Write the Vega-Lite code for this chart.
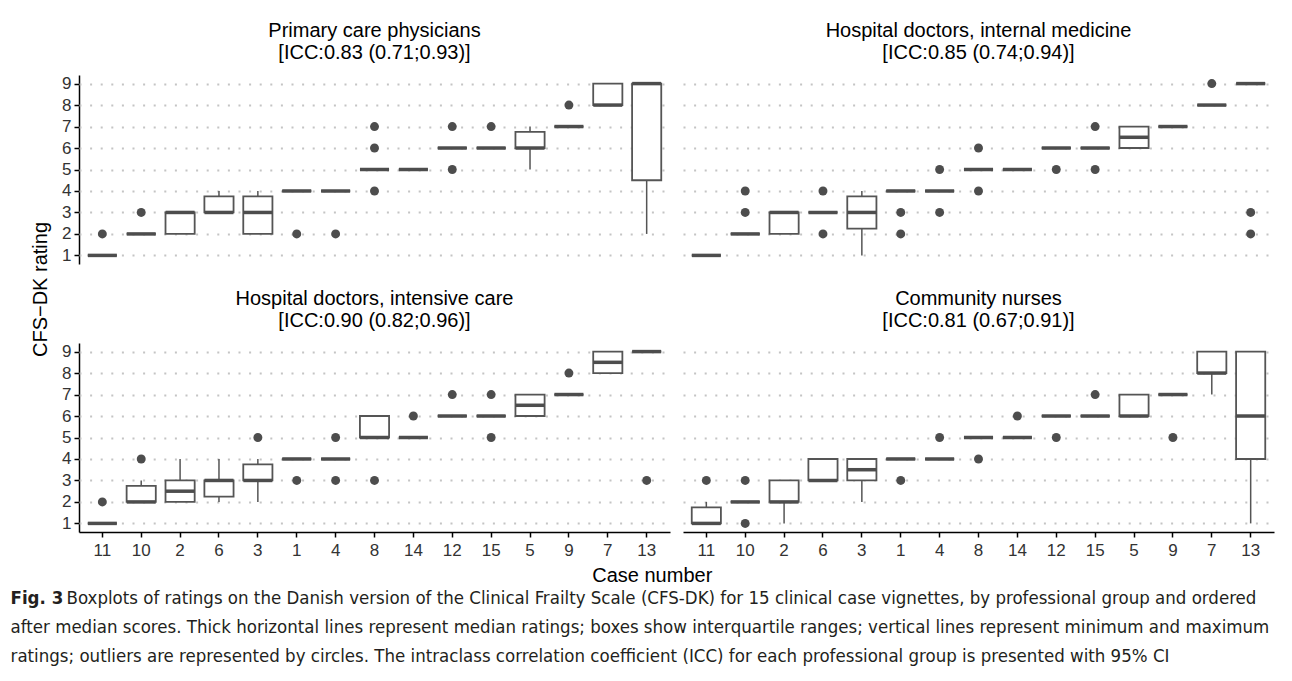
{
  "$schema": "https://vega.github.io/schema/vega-lite/v6.json",
  "background": "white",
  "padding": {"left": 10, "top": 21, "right": 5, "bottom": 5},
  "title": {
    "text": [
      "after median scores. Thick horizontal lines represent median ratings; boxes show interquartile ranges; vertical lines represent minimum and maximum",
      "ratings; outliers are represented by circles. The intraclass correlation coefficient (ICC) for each professional group is presented with 95% CI"
    ],
    "orient": "bottom",
    "anchor": "start",
    "frame": "bounds",
    "font": "DejaVu Sans Condensed",
    "fontSize": 18.5,
    "fontWeight": "normal",
    "color": "#231f20",
    "lineHeight": 29.5,
    "offset": 10
  },
  "vconcat": [
    {
      "title": {
        "text": "Boxplots of ratings on the Danish version of the Clinical Frailty Scale (CFS-DK) for 15 clinical case vignettes, by professional group and ordered",
        "orient": "bottom",
        "anchor": "start",
        "frame": "bounds",
        "dx": 56,
        "font": "DejaVu Sans Condensed",
        "fontSize": 18.5,
        "fontWeight": "normal",
        "color": "#231f20",
        "offset": -19
      },
      "vconcat": [
        {
          "title": {
            "text": "Fig. 3",
            "orient": "bottom",
            "anchor": "start",
            "frame": "bounds",
            "dx": -20,
            "font": "DejaVu Sans Condensed",
            "fontSize": 18.5,
            "fontWeight": "bold",
            "color": "#231f20",
            "offset": 3
          },
          "vconcat": [
            {
              "title": {"text": "Case number", "orient": "bottom", "anchor": "middle", "font": "Liberation Sans", "fontSize": 20, "fontWeight": "normal", "color": "black", "offset": 8},
              "vconcat": [
                {
                  "title": {"text": "CFS−DK rating", "orient": "left", "anchor": "middle", "font": "Liberation Sans", "fontSize": 20, "fontWeight": "normal", "color": "black", "offset": 11},
                  "data": {"values": [
                    {"g":"P","c":"11","k":"box","q1":1,"med":1,"q3":1,"lo":1,"hi":1},
                    {"g":"P","c":"10","k":"box","q1":2,"med":2,"q3":2,"lo":2,"hi":2},
                    {"g":"P","c":"2","k":"box","q1":2,"med":3,"q3":3,"lo":2,"hi":3},
                    {"g":"P","c":"6","k":"box","q1":3,"med":3,"q3":3.75,"lo":3,"hi":4},
                    {"g":"P","c":"3","k":"box","q1":2,"med":3,"q3":3.75,"lo":2,"hi":4},
                    {"g":"P","c":"1","k":"box","q1":4,"med":4,"q3":4,"lo":4,"hi":4},
                    {"g":"P","c":"4","k":"box","q1":4,"med":4,"q3":4,"lo":4,"hi":4},
                    {"g":"P","c":"8","k":"box","q1":5,"med":5,"q3":5,"lo":5,"hi":5},
                    {"g":"P","c":"14","k":"box","q1":5,"med":5,"q3":5,"lo":5,"hi":5},
                    {"g":"P","c":"12","k":"box","q1":6,"med":6,"q3":6,"lo":6,"hi":6},
                    {"g":"P","c":"15","k":"box","q1":6,"med":6,"q3":6,"lo":6,"hi":6},
                    {"g":"P","c":"5","k":"box","q1":6,"med":6,"q3":6.75,"lo":5,"hi":7},
                    {"g":"P","c":"9","k":"box","q1":7,"med":7,"q3":7,"lo":7,"hi":7},
                    {"g":"P","c":"7","k":"box","q1":8,"med":8,"q3":9,"lo":8,"hi":9},
                    {"g":"P","c":"13","k":"box","q1":4.5,"med":9,"q3":9,"lo":2,"hi":9},
                    {"g":"P","c":"11","k":"out","v":2},
                    {"g":"P","c":"10","k":"out","v":3},
                    {"g":"P","c":"1","k":"out","v":2},
                    {"g":"P","c":"4","k":"out","v":2},
                    {"g":"P","c":"8","k":"out","v":4},
                    {"g":"P","c":"8","k":"out","v":6},
                    {"g":"P","c":"8","k":"out","v":7},
                    {"g":"P","c":"12","k":"out","v":5},
                    {"g":"P","c":"12","k":"out","v":7},
                    {"g":"P","c":"15","k":"out","v":7},
                    {"g":"P","c":"9","k":"out","v":8},

                    {"g":"I","c":"11","k":"box","q1":1,"med":1,"q3":1,"lo":1,"hi":1},
                    {"g":"I","c":"10","k":"box","q1":2,"med":2,"q3":2,"lo":2,"hi":2},
                    {"g":"I","c":"2","k":"box","q1":2,"med":3,"q3":3,"lo":2,"hi":3},
                    {"g":"I","c":"6","k":"box","q1":3,"med":3,"q3":3,"lo":3,"hi":3},
                    {"g":"I","c":"3","k":"box","q1":2.25,"med":3,"q3":3.75,"lo":1,"hi":4},
                    {"g":"I","c":"1","k":"box","q1":4,"med":4,"q3":4,"lo":4,"hi":4},
                    {"g":"I","c":"4","k":"box","q1":4,"med":4,"q3":4,"lo":4,"hi":4},
                    {"g":"I","c":"8","k":"box","q1":5,"med":5,"q3":5,"lo":5,"hi":5},
                    {"g":"I","c":"14","k":"box","q1":5,"med":5,"q3":5,"lo":5,"hi":5},
                    {"g":"I","c":"12","k":"box","q1":6,"med":6,"q3":6,"lo":6,"hi":6},
                    {"g":"I","c":"15","k":"box","q1":6,"med":6,"q3":6,"lo":6,"hi":6},
                    {"g":"I","c":"5","k":"box","q1":6,"med":6.5,"q3":7,"lo":6,"hi":7},
                    {"g":"I","c":"9","k":"box","q1":7,"med":7,"q3":7,"lo":7,"hi":7},
                    {"g":"I","c":"7","k":"box","q1":8,"med":8,"q3":8,"lo":8,"hi":8},
                    {"g":"I","c":"13","k":"box","q1":9,"med":9,"q3":9,"lo":9,"hi":9},
                    {"g":"I","c":"10","k":"out","v":3},
                    {"g":"I","c":"10","k":"out","v":4},
                    {"g":"I","c":"6","k":"out","v":2},
                    {"g":"I","c":"6","k":"out","v":4},
                    {"g":"I","c":"1","k":"out","v":3},
                    {"g":"I","c":"1","k":"out","v":2},
                    {"g":"I","c":"4","k":"out","v":5},
                    {"g":"I","c":"4","k":"out","v":3},
                    {"g":"I","c":"8","k":"out","v":6},
                    {"g":"I","c":"8","k":"out","v":4},
                    {"g":"I","c":"12","k":"out","v":5},
                    {"g":"I","c":"15","k":"out","v":7},
                    {"g":"I","c":"15","k":"out","v":5},
                    {"g":"I","c":"7","k":"out","v":9},
                    {"g":"I","c":"13","k":"out","v":3},
                    {"g":"I","c":"13","k":"out","v":2},

                    {"g":"C","c":"11","k":"box","q1":1,"med":1,"q3":1,"lo":1,"hi":1},
                    {"g":"C","c":"10","k":"box","q1":2,"med":2,"q3":2.75,"lo":2,"hi":3},
                    {"g":"C","c":"2","k":"box","q1":2,"med":2.5,"q3":3,"lo":2,"hi":4},
                    {"g":"C","c":"6","k":"box","q1":2.25,"med":3,"q3":3,"lo":2,"hi":4},
                    {"g":"C","c":"3","k":"box","q1":3,"med":3,"q3":3.75,"lo":2,"hi":4},
                    {"g":"C","c":"1","k":"box","q1":4,"med":4,"q3":4,"lo":4,"hi":4},
                    {"g":"C","c":"4","k":"box","q1":4,"med":4,"q3":4,"lo":4,"hi":4},
                    {"g":"C","c":"8","k":"box","q1":5,"med":5,"q3":6,"lo":5,"hi":6},
                    {"g":"C","c":"14","k":"box","q1":5,"med":5,"q3":5,"lo":5,"hi":5},
                    {"g":"C","c":"12","k":"box","q1":6,"med":6,"q3":6,"lo":6,"hi":6},
                    {"g":"C","c":"15","k":"box","q1":6,"med":6,"q3":6,"lo":6,"hi":6},
                    {"g":"C","c":"5","k":"box","q1":6,"med":6.5,"q3":7,"lo":6,"hi":7},
                    {"g":"C","c":"9","k":"box","q1":7,"med":7,"q3":7,"lo":7,"hi":7},
                    {"g":"C","c":"7","k":"box","q1":8,"med":8.5,"q3":9,"lo":8,"hi":9},
                    {"g":"C","c":"13","k":"box","q1":9,"med":9,"q3":9,"lo":9,"hi":9},
                    {"g":"C","c":"11","k":"out","v":2},
                    {"g":"C","c":"10","k":"out","v":4},
                    {"g":"C","c":"3","k":"out","v":5},
                    {"g":"C","c":"1","k":"out","v":3},
                    {"g":"C","c":"4","k":"out","v":5},
                    {"g":"C","c":"4","k":"out","v":3},
                    {"g":"C","c":"8","k":"out","v":3},
                    {"g":"C","c":"14","k":"out","v":6},
                    {"g":"C","c":"12","k":"out","v":7},
                    {"g":"C","c":"15","k":"out","v":7},
                    {"g":"C","c":"15","k":"out","v":5},
                    {"g":"C","c":"9","k":"out","v":8},
                    {"g":"C","c":"13","k":"out","v":3},

                    {"g":"N","c":"11","k":"box","q1":1,"med":1,"q3":1.75,"lo":1,"hi":2},
                    {"g":"N","c":"10","k":"box","q1":2,"med":2,"q3":2,"lo":2,"hi":2},
                    {"g":"N","c":"2","k":"box","q1":2,"med":2,"q3":3,"lo":1,"hi":3},
                    {"g":"N","c":"6","k":"box","q1":3,"med":3,"q3":4,"lo":3,"hi":4},
                    {"g":"N","c":"3","k":"box","q1":3,"med":3.5,"q3":4,"lo":2,"hi":4},
                    {"g":"N","c":"1","k":"box","q1":4,"med":4,"q3":4,"lo":4,"hi":4},
                    {"g":"N","c":"4","k":"box","q1":4,"med":4,"q3":4,"lo":4,"hi":4},
                    {"g":"N","c":"8","k":"box","q1":5,"med":5,"q3":5,"lo":5,"hi":5},
                    {"g":"N","c":"14","k":"box","q1":5,"med":5,"q3":5,"lo":5,"hi":5},
                    {"g":"N","c":"12","k":"box","q1":6,"med":6,"q3":6,"lo":6,"hi":6},
                    {"g":"N","c":"15","k":"box","q1":6,"med":6,"q3":6,"lo":6,"hi":6},
                    {"g":"N","c":"5","k":"box","q1":6,"med":6,"q3":7,"lo":6,"hi":7},
                    {"g":"N","c":"9","k":"box","q1":7,"med":7,"q3":7,"lo":7,"hi":7},
                    {"g":"N","c":"7","k":"box","q1":8,"med":8,"q3":9,"lo":7,"hi":9},
                    {"g":"N","c":"13","k":"box","q1":4,"med":6,"q3":9,"lo":1,"hi":9},
                    {"g":"N","c":"11","k":"out","v":3},
                    {"g":"N","c":"10","k":"out","v":3},
                    {"g":"N","c":"10","k":"out","v":1},
                    {"g":"N","c":"1","k":"out","v":3},
                    {"g":"N","c":"4","k":"out","v":5},
                    {"g":"N","c":"8","k":"out","v":4},
                    {"g":"N","c":"14","k":"out","v":6},
                    {"g":"N","c":"12","k":"out","v":5},
                    {"g":"N","c":"15","k":"out","v":7},
                    {"g":"N","c":"9","k":"out","v":5}
                  ]},
                  "facet": {
                    "field": "g",
                    "type": "nominal",
                    "sort": ["P", "I", "C", "N"],
                    "header": {
                      "title": null,
                      "labelExpr": "datum.value == 'P' ? ['Primary care physicians', '[ICC:0.83 (0.71;0.93)]'] : datum.value == 'I' ? ['Hospital doctors, internal medicine', '[ICC:0.85 (0.74;0.94)]'] : datum.value == 'C' ? ['Hospital doctors, intensive care', '[ICC:0.90 (0.82;0.96)]'] : ['Community nurses', '[ICC:0.81 (0.67;0.91)]']",
                      "labelFont": "Liberation Sans",
                      "labelFontSize": 20,
                      "labelColor": "black",
                      "labelLineHeight": 22,
                      "labelPadding": 12
                    }
                  },
                  "columns": 2,
                  "spacing": {"row": 25, "column": 13},
                  "spec": {
                    "width": 591,
                    "height": 189,
                    "encoding": {
                      "x": {
                        "field": "c",
                        "type": "nominal",
                        "sort": ["11","10","2","6","3","1","4","8","14","12","15","5","9","7","13"],
                        "scale": {"type": "band", "paddingInner": 0, "paddingOuter": 0.1},
                        "axis": {"title": null, "labelAngle": 0, "labelFont": "Liberation Sans", "labelFontSize": 17, "labelColor": "#333333", "labelPadding": 5, "domainColor": "black", "domainWidth": 1.5, "tickColor": "black", "tickWidth": 1.5, "tickSize": 5, "grid": false}
                      }
                    },
                    "layer": [
                      {
                        "transform": [{"filter": "datum.k == 'box'"}],
                        "mark": {"type": "rule", "color": "#555555", "strokeWidth": 1.5},
                        "encoding": {
                          "y": {"field": "lo", "type": "quantitative", "scale": {"domain": [0.6, 9.4], "nice": false, "zero": false},
                            "axis": {"title": null, "values": [1,2,3,4,5,6,7,8,9], "labelOverlap": false, "labelFont": "Liberation Sans", "labelFontSize": 17, "labelColor": "#333333", "labelPadding": 3, "domainColor": "black", "domainWidth": 1.5, "tickColor": "black", "tickWidth": 1.5, "tickSize": 5, "grid": true, "gridColor": "#c4c4c4", "gridWidth": 2, "gridDash": [2, 8.6]}},
                          "y2": {"field": "hi"}
                        }
                      },
                      {
                        "transform": [{"filter": "datum.k == 'box'"}],
                        "mark": {"type": "bar", "fill": "white", "stroke": "#555555", "strokeWidth": 1.8, "width": {"band": 0.75}, "opacity": 1},
                        "encoding": {
                          "y": {"field": "q1", "type": "quantitative", "scale": {"domain": [0.6, 9.4], "nice": false, "zero": false},
                            "axis": {"title": null, "values": [1,2,3,4,5,6,7,8,9], "labelOverlap": false, "labelFont": "Liberation Sans", "labelFontSize": 17, "labelColor": "#333333", "labelPadding": 3, "domainColor": "black", "domainWidth": 1.5, "tickColor": "black", "tickWidth": 1.5, "tickSize": 5, "grid": true, "gridColor": "#c4c4c4", "gridWidth": 2, "gridDash": [2, 8.6]}},
                          "y2": {"field": "q3"}
                        }
                      },
                      {
                        "transform": [{"filter": "datum.k == 'box'"}],
                        "mark": {"type": "tick", "color": "#4d4d4d", "thickness": 3.5, "size": 29, "opacity": 1},
                        "encoding": {
                          "y": {"field": "med", "type": "quantitative", "scale": {"domain": [0.6, 9.4], "nice": false, "zero": false},
                            "axis": {"title": null, "values": [1,2,3,4,5,6,7,8,9], "labelOverlap": false, "labelFont": "Liberation Sans", "labelFontSize": 17, "labelColor": "#333333", "labelPadding": 3, "domainColor": "black", "domainWidth": 1.5, "tickColor": "black", "tickWidth": 1.5, "tickSize": 5, "grid": true, "gridColor": "#c4c4c4", "gridWidth": 2, "gridDash": [2, 8.6]}}
                        }
                      },
                      {
                        "transform": [{"filter": "datum.k == 'out'"}],
                        "mark": {"type": "point", "filled": true, "shape": "circle", "color": "#4d4d4d", "size": 80, "opacity": 1},
                        "encoding": {
                          "y": {"field": "v", "type": "quantitative", "scale": {"domain": [0.6, 9.4], "nice": false, "zero": false},
                            "axis": {"title": null, "values": [1,2,3,4,5,6,7,8,9], "labelOverlap": false, "labelFont": "Liberation Sans", "labelFontSize": 17, "labelColor": "#333333", "labelPadding": 3, "domainColor": "black", "domainWidth": 1.5, "tickColor": "black", "tickWidth": 1.5, "tickSize": 5, "grid": true, "gridColor": "#c4c4c4", "gridWidth": 2, "gridDash": [2, 8.6]}}
                        }
                      }
                    ]
                  }
                }
              ]
            }
          ]
        }
      ]
    }
  ],
  "config": {
    "view": {"stroke": null},
    "font": "Liberation Sans"
  }
}
